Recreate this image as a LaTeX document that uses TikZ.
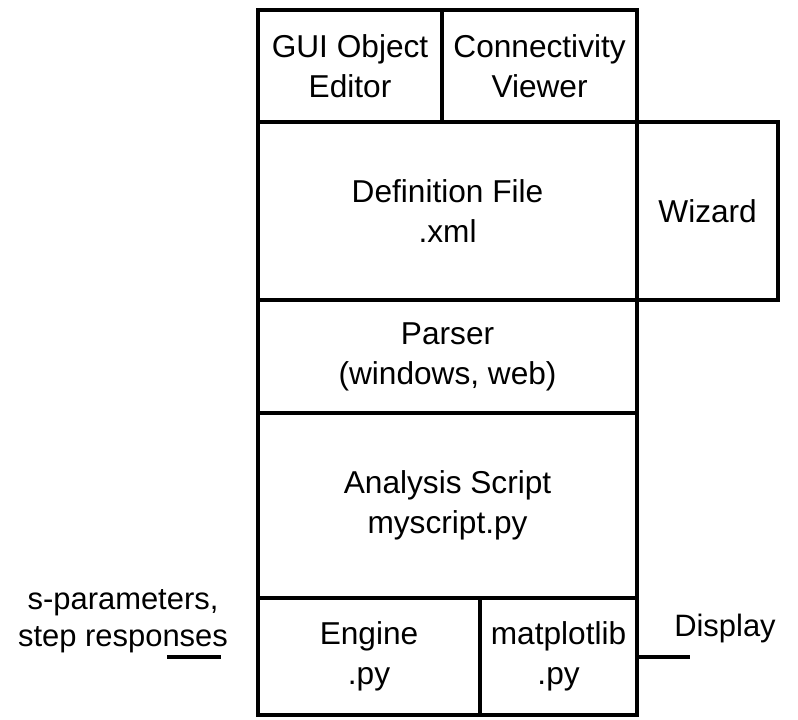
\documentclass[tikz,border=0pt]{standalone}
\usepackage{fontspec}
\setmainfont{Liberation Sans}
\usetikzlibrary{positioning}

\begin{document}
\begin{tikzpicture}[x=0.025cm, y=-0.025cm,
    block/.style={draw, line width=0.1cm, inner sep=0pt, outer sep=0pt, align=center,
      font=\fontsize{22.5}{28.5}\selectfont},
    note/.style={inner sep=0pt, align=center, font=\fontsize{22}{26.5}\selectfont}]
  \useasboundingbox (0,0) rectangle (798,719);

  % Editors on top
  \node[block, anchor=north west, minimum width=4.6cm, minimum height=2.8cm] (gui) at (258,10) {GUI Object\\Editor};
  \node[block, anchor=north west, minimum width=4.875cm, minimum height=2.8cm] (conn) at (gui.north east) {Connectivity\\Viewer};

  % Definition file and wizard
  \node[block, anchor=north west, minimum width=9.475cm, minimum height=4.45cm] (deffile) at (gui.south west) {Definition File\\.xml};
  \node[block, anchor=north west, minimum width=3.525cm, minimum height=4.45cm] (wizard) at (deffile.north east) {Wizard};

  % Parser and script
  \node[block, anchor=north west, minimum width=9.475cm, minimum height=2.825cm] (parser) at (deffile.south west) {Parser\\(windows, web)};
  \node[block, anchor=north west, minimum width=9.475cm, minimum height=4.625cm] (script) at (parser.south west) {Analysis Script\\myscript.py};

  % Engine and plotting
  \node[block, anchor=north west, minimum width=5.55cm, minimum height=2.925cm] (engine) at (script.south west) {Engine\\.py};
  \node[block, anchor=north west, minimum width=3.925cm, minimum height=2.925cm] (mpl) at (engine.north east) {matplotlib\\.py};

  % Inputs and outputs
  \node[note] (params) at (123,621) {s-parameters,\\step responses};
  \node[note] (display) at (725,628) {Display};
  \coordinate (in-a) at (167,657);
  \coordinate (in-b) at (221,657);
  \coordinate (out) at (690,657);
  \draw[line width=0.1cm] (in-a) -- (in-b);
  \draw[line width=0.1cm] (mpl.east) -- (out |- mpl.east);
\end{tikzpicture}
\end{document}
